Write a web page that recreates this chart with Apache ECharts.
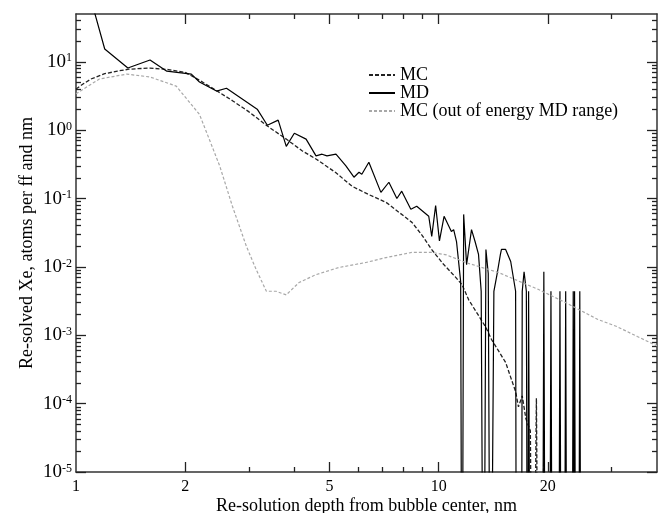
<!DOCTYPE html>
<html>
<head>
<meta charset="utf-8">
<script src="https://cdn.jsdelivr.net/npm/echarts@6/dist/echarts.min.js"></script>
<style>
  html, body { margin: 0; padding: 0; background: #fff; }
  #main { width: 658px; height: 513px; }
</style>
</head>
<body>
<div id="main"></div>
<script>
// 1e-9 stands for a zero count (drawn as a drop below the axis)
var mcDepth = [1.0, 1.05, 1.1, 1.2, 1.3, 1.4, 1.6, 1.8, 2.0, 2.2, 2.4, 2.7, 3.0, 3.37, 3.8, 4.2, 4.6, 5.2, 5.77, 6.4, 7.16, 7.8, 8.44, 9.0, 9.56, 10.3, 11.1, 11.6, 12.1, 13.0, 13.5, 14.0, 14.6, 15.3, 15.9, 16.3, 16.6, 17.0, 17.4, 17.9, 18.2, 18.6, 18.9, 19.5, 19.8];
var mcValue = [4.0, 4.8, 5.6, 6.7, 7.3, 7.8, 8.1, 7.7, 7.0, 5.3, 4.0, 2.7, 1.85, 1.15, 0.74, 0.50, 0.376, 0.24, 0.151, 0.115, 0.088, 0.062, 0.0448, 0.029, 0.018, 0.011, 0.0072, 0.0055, 0.0033, 0.0018, 0.0013, 8.6e-4, 6e-4, 4e-4, 2.2e-4, 1.5e-4, 9e-5, 1.3e-4, 6e-5, 4e-5, 1e-9, 1.2e-4, 1e-9, 2e-5, 1e-9];

var mdDepth = [1.0, 1.2, 1.39, 1.6, 1.78, 2.08, 2.19, 2.44, 2.6, 3.16, 3.37, 3.61, 3.8, 4.0, 4.31, 4.59, 4.77, 4.92, 5.21, 5.55, 5.84, 6.03, 6.14, 6.42, 6.93, 7.29, 7.67, 7.91, 8.38, 8.7, 9.39, 9.57, 9.81, 10.05, 10.35, 10.84, 11.0, 11.2, 11.5, 11.6, 11.72, 11.94, 12.32, 12.6, 12.88, 13.1, 13.3, 13.5, 13.7, 13.9, 14.2, 14.5, 14.8, 14.9, 15.3, 15.8, 16.3, 16.4, 16.9, 17.0, 17.2, 17.45, 17.6, 17.7, 17.9, 19.3, 19.5, 19.7, 20.2, 20.4, 20.6, 21.4, 21.6, 21.8, 22.2, 22.4, 22.6, 23.3, 23.5, 23.6, 23.7, 23.9, 24.3, 24.5, 24.7];
var mdValue = [500, 15.4, 8.1, 10.6, 7.3, 6.6, 5.06, 3.73, 4.1, 2.03, 1.18, 1.40, 0.58, 0.90, 0.74, 0.42, 0.445, 0.42, 0.445, 0.30, 0.205, 0.242, 0.226, 0.34, 0.123, 0.173, 0.10, 0.128, 0.0695, 0.077, 0.055, 0.028, 0.079, 0.024, 0.055, 0.033, 0.035, 0.0235, 0.0061, 1e-9, 0.0586, 0.0108, 0.035, 0.0235, 0.0152, 0.0044, 1e-9, 0.018, 0.008, 1e-9, 0.0044, 0.008, 0.0152, 0.018, 0.018, 0.012, 0.0044, 1e-9, 1e-9, 0.0044, 0.0085, 0.0044, 1e-9, 0.0044, 1e-9, 1e-9, 0.0085, 1e-9, 1e-9, 0.0044, 1e-9, 1e-9, 0.0044, 1e-9, 1e-9, 0.0044, 1e-9, 1e-9, 0.0044, 1e-9, 0.0044, 1e-9, 1e-9, 0.0044, 1e-9];

var outDepth = [1.0, 1.16, 1.38, 1.6, 1.89, 2.19, 2.33, 2.49, 2.7, 2.95, 3.14, 3.35, 3.56, 3.8, 4.12, 4.59, 5.31, 6.3, 7.16, 8.44, 9.56, 10.5, 11.86, 14.6, 18.8, 22.4, 27.5, 31, 35.3, 40];
var outValue = [3.4, 5.6, 6.6, 6.0, 4.4, 1.7, 0.74, 0.30, 0.077, 0.020, 0.0091, 0.0044, 0.0044, 0.0039, 0.0059, 0.0077, 0.0098, 0.0116, 0.0137, 0.0163, 0.0163, 0.015, 0.0116, 0.0083, 0.0047, 0.0030, 0.0017, 0.00134, 0.00096, 0.0007];

var xLabels = [1, 2, 5, 10, 20];
var xMajor = [2, 5, 10, 20];
var xMinor = [3, 4, 6, 7, 8, 9, 30];
var yLabels = [1e-5, 1e-4, 1e-3, 1e-2, 1e-1, 1, 10];
var yMinor = [];
for (var p = -5; p <= 1; p++) {
  for (var m = 2; m <= 9; m++) {
    var mv = m * Math.pow(10, p);
    if (mv < 50) yMinor.push(mv);
  }
}

var serif = 'Liberation Serif';
var ink = '#333';

function zip(a, b) {
  var res = [];
  for (var i = 0; i < a.length; i++) res.push([a[i], b[i]]);
  return res;
}

// one axis object per side and tick size; only the first carries labels/name
function xAxisDef(pos, ticks, len, withLine) {
  return {
    type: 'log', logBase: 10, min: 1, max: 40, position: pos,
    axisLine: { show: withLine, lineStyle: { color: ink, width: 1.5 } },
    axisTick: { show: true, inside: true, length: len, customValues: ticks, lineStyle: { color: '#222', width: 1.3 } },
    axisLabel: { show: false },
    splitLine: { show: false },
    minorTick: { show: false }
  };
}
function yAxisDef(pos, ticks, len, withLine) {
  return {
    type: 'log', logBase: 10, min: 1e-5, max: 50, position: pos,
    axisLine: { show: withLine, lineStyle: { color: ink, width: 1.5 } },
    axisTick: { show: true, inside: true, length: len, customValues: ticks, lineStyle: { color: '#222', width: 1.3 } },
    axisLabel: { show: false },
    splitLine: { show: false },
    minorTick: { show: false }
  };
}

var xBottom = xAxisDef('bottom', xMajor, 10, true);
xBottom.axisLabel = {
  show: true, customValues: xLabels, margin: 7,
  fontFamily: serif, fontSize: 16, color: '#000',
  formatter: function (val) { return String(Math.round(val)); }
};
xBottom.name = 'Re-solution depth from bubble center, nm';
xBottom.nameLocation = 'middle';
xBottom.nameGap = 25;
xBottom.nameMoveOverlap = false;
xBottom.nameTextStyle = { fontFamily: serif, fontSize: 18, color: '#000' };

var yLeft = yAxisDef('left', yLabels, 10, true);
yLeft.axisLabel = {
  show: true, customValues: yLabels, margin: 4,
  formatter: function (val) {
    var e = Math.round(Math.log(val) / Math.LN10);
    return '{b|10}{s|' + e + '}';
  },
  rich: {
    b: { fontFamily: serif, fontSize: 19, color: '#000', lineHeight: 19, verticalAlign: 'bottom', padding: [6, 0, 0, 0] },
    s: { fontFamily: serif, fontSize: 12, color: '#000', lineHeight: 12, verticalAlign: 'top' }
  }
};
yLeft.name = 'Re-solved Xe, atoms per ff and nm';
yLeft.nameLocation = 'middle';
yLeft.nameGap = 40;
yLeft.nameMoveOverlap = false;
yLeft.nameTextStyle = { fontFamily: serif, fontSize: 18, color: '#000' };

var myChart = echarts.init(document.getElementById('main'));
myChart.setOption({
  animation: false,
  backgroundColor: '#fff',
  grid: { left: 76, right: 1, top: 14, bottom: 41, outerBoundsMode: 'none' },
  legend: {
    orient: 'vertical', left: 363, top: 61,
    itemWidth: 26, itemHeight: 10, itemGap: 0,
    itemStyle: { opacity: 0 },
    textStyle: { fontFamily: serif, fontSize: 18, color: '#000', lineHeight: 17.5 },
    data: ['MC', 'MD', 'MC (out of energy MD range)']
  },
  xAxis: [
    xBottom,
    xAxisDef('bottom', xMinor, 5, false),
    xAxisDef('top', xMajor, 10, true),
    xAxisDef('top', xMinor, 5, false)
  ],
  yAxis: [
    yLeft,
    yAxisDef('left', yMinor, 5, false),
    yAxisDef('right', yLabels, 10, true),
    yAxisDef('right', yMinor, 5, false)
  ],
  series: [
    {
      name: 'MC', type: 'line', data: zip(mcDepth, mcValue),
      symbol: 'none', clip: true,
      lineStyle: { color: '#222', width: 1.3, type: [4, 2] },
      itemStyle: { color: '#222' }
    },
    {
      name: 'MD', type: 'line', data: zip(mdDepth, mdValue),
      symbol: 'none', clip: true,
      lineStyle: { color: '#000', width: 1.2 },
      itemStyle: { color: '#000' }
    },
    {
      name: 'MC (out of energy MD range)', type: 'line', data: zip(outDepth, outValue),
      symbol: 'none', clip: true,
      lineStyle: { color: '#a8a8a8', width: 1.2, type: [3, 2] },
      itemStyle: { color: '#a8a8a8' }
    }
  ]
});
</script>
</body>
</html>
